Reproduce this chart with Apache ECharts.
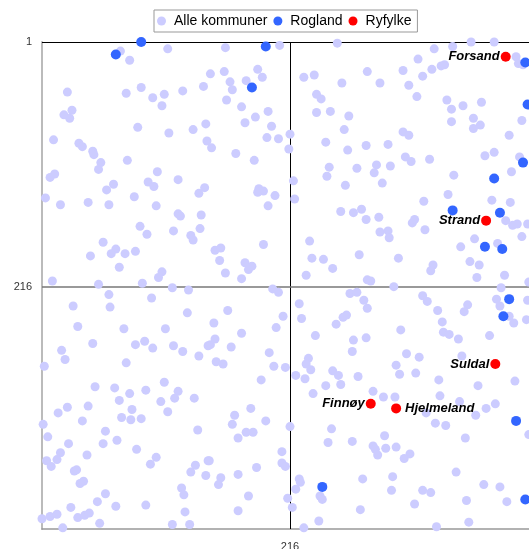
<!DOCTYPE html>
<html>
<head>
<meta charset="utf-8">
<script src="https://cdn.jsdelivr.net/npm/echarts@6/dist/echarts.min.js"></script>
<style>html,body{margin:0;padding:0;background:#fff}#c{width:529px;height:549px}</style>
</head>
<body>
<div id="c"></div>
<script>
// Rank pairs [x, y] (1 = best)
const alleKommuner = [
[69,9],[77,17],[110,7],[23,45],[74,46],[87,41],[97,50],[107,47],[123,44],[141,40],[105,57],[27,61],[20,65],[25,68],[84,76],[132,78],[143,73],[111,81],[11,87],[144,88],[33,90],[36,93],[45,97],[46,100],[75,105],[52,107],[50,113],[101,115],[12,117],[8,120],[119,122],[93,124],[98,128],[63,126],[57,131],[142,129],[137,134],[81,137],[4,138],[17,144],[41,142],[59,144],[100,145],
[119,152],[121,154],[139,153],[86,163],[92,170],[115,167],[138,165],[130,171],[132,175],[54,177],[65,183],[61,187],[73,187],[82,185],[43,189],[68,199],[105,203],[102,208],[10,211],[88,213],[50,214],[114,217],[128,219],[59,223],[96,226],[28,233],[60,234],[127,239],[32,251],[72,253],[108,253],[45,266],[82,267],[90,264],[97,270],[115,268],[123,273],[145,268],[18,272],[21,280],[137,277],[74,283],[3,286],
[47,304],[64,305],[77,310],[91,307],[107,300],[119,308],[116,314],[133,314],[104,317],[110,326],[68,316],[23,322],[15,327],[41,321],[79,324],[70,331],[78,333],[87,332],[36,334],[2,337],[6,348],[56,343],[136,342],[24,354],[54,354],[66,351],[83,359],[17,362],[40,364],[14,368],[5,369],[9,374],[100,366],[95,372],[145,369],[134,373],[130,379],[143,382],[29,378],[31,377],[37,387],[34,389],[122,393],[124,399],[56,398],[49,405],[65,409],[91,408],[26,410],[125,414],[1,420],[8,418],[14,416],[32,419],[38,417],[42,415],[51,424],[114,425],[129,425],[19,428],
[160,6],[207,4],[257,2],[147,29],[159,27],[188,25],[192,32],[164,36],[178,35],[166,43],[228,32],[237,30],[261,37],[283,27],[239,47],[243,51],[161,52],[174,58],[197,62],[186,67],[239,63],[251,62],[267,66],[177,72],[200,75],[263,78],[196,85],[206,86],[216,82],[148,94],[247,89],[282,92],[215,95],[266,96],[169,99],[185,105],[250,111],[274,112],[248,119],[219,123],[264,127],[189,130],[193,132],[188,133],[203,136],[220,139],[197,145],
[260,150],[271,151],[278,148],[282,157],[193,179],[233,176],[151,184],[156,182],[155,193],[177,195],[183,198],[180,201],[160,204],[174,209],[235,191],[245,192],[253,200],[276,188],[230,206],[283,210],[201,218],[206,221],[268,222],[274,221],[280,228],[283,235],[224,231],[162,237],[226,244],[265,241],[262,243],[256,249],[150,248],[210,242],[204,252],[174,257],[238,259],[282,261],[271,263],[151,262],[147,267],[165,269],[198,274],[270,273],[232,279],[152,282],[158,284],[230,284],[202,286],[212,287],
[234,289],[221,294],[229,297],[253,290],[258,294],[275,295],[191,298],[247,303],[260,302],[236,310],[182,323],[168,329],[166,337],[195,334],[178,344],[184,344],[171,349],[216,339],[252,341],[249,353],[270,352],[209,361],[146,369],[209,371],[212,374],[187,375],[171,381],[156,384],[154,390],[224,385],[225,388],[221,394],[279,385],[242,400],[244,403],[180,400],[214,402],[218,410],[171,413],[277,412],[241,422],[228,428],
[341,7],[357,5],[373,1],[393,1],[327,16],[314,26],[339,25],[347,22],[350,21],[331,31],[294,37],[319,39],[412,14],[414,20],[418,21],[326,49],[352,52],[356,60],[366,57],[382,54],[356,71],[375,68],[381,74],[375,77],[417,70],[314,80],[319,83],[406,83],[301,91],[316,102],[321,106],[337,104],[385,101],[393,98],[415,102],[291,109],[303,110],[289,116],[296,125],[358,118],[408,115],[353,135],[332,141],[391,140],[407,142],
[293,155],[322,160],[324,157],[403,158],[409,162],[413,161],[422,161],[294,168],[301,167],[302,173],[333,166],[376,174],[364,181],[396,178],[417,172],[310,191],[340,197],[338,202],[372,194],[380,197],[378,208],[402,206],[286,211],[306,216],[423,212],[399,217],[331,224],[335,229],[344,237],[370,232],[367,238],[395,227],[398,233],[422,228],[406,242],[421,245],[410,248],[348,247],[312,254],[349,256],[354,258],[362,262],[389,259],[317,275],[328,278],[365,277],[308,285],
[311,293],[325,292],[345,298],[379,303],[411,299],[288,308],[297,313],[307,313],[346,312],[363,317],[334,327],[377,329],[386,323],[394,319],[342,336],[351,338],[368,349],[298,347],[288,356],[290,359],[292,364],[299,358],[308,357],[320,363],[315,367],[360,379],[305,383],[331,395],[338,397],[304,395],[384,390],[398,392],[369,404],[404,405],[324,407],[371,423],[343,427],[423,346]
];
const rogland = [
[65,12],[87,1],[195,5],[183,41],[420,19],[422,56],[418,107],[393,121],[357,149],[398,151],[385,181],[400,183],[406,227],[401,242],[244,392],[412,334],[420,403]
];
const ryfylkeNames = ['Forsand','Strand','Suldal','Finnøy','Hjelmeland'];
const ryfylkeX = [403,386,394,286,308];
const ryfylkeY = [14,158,284,319,323];
const xTickLabels = [216];
const yTickLabels = [1,216];
const midRank = 216;
const topRank = 1;

const labelRight = {'Hjelmeland': true};
const font = '"Liberation Sans", Arial, Helvetica, sans-serif';

const chart = echarts.init(document.getElementById('c'), null, {renderer:'canvas'});
chart.setOption({
  animation:false,
  backgroundColor:'#fff',
  textStyle:{fontFamily:font},
  legend:{
    top:10, left:154, padding:[4,6,4,3], itemGap:6, itemWidth:9, itemHeight:9,
    borderColor:'#999', borderWidth:1,
    textStyle:{fontSize:14, color:'#000', fontFamily:font, padding:[0,0,0,3]},
    data:[{name:'Alle kommuner',icon:'circle'},{name:'Rogland',icon:'circle'},{name:'Ryfylke',icon:'circle'}]
  },
  grid:{left:42, top:42, width:496, height:487, containLabel:false, outerBoundsMode:'none'},
  xAxis:{
    type:'value', min:1, max:431,
    axisLine:{show:true, onZero:false, lineStyle:{color:'#999', width:1.5}},
    axisTick:{show:false}, splitLine:{show:false},
    axisLabel:{customValues:xTickLabels, margin:12, fontSize:11, color:'#333', fontFamily:font}
  },
  yAxis:{
    type:'value', inverse:true, min:1, max:429,
    axisLine:{show:true, onZero:false, lineStyle:{color:'#bbb', width:2}},
    axisTick:{show:false}, splitLine:{show:false},
    axisLabel:{customValues:yTickLabels, margin:10, fontSize:11, color:'#333', fontFamily:font}
  },
  series:[
    {
      name:'Alle kommuner', type:'scatter', data:alleKommuner, symbolSize:9, z:2,
      itemStyle:{color:'#ccccff', opacity:1}, emphasis:{disabled:true},
      markLine:{
        silent:true, symbol:'none', z:1, animation:false, label:{show:false},
        lineStyle:{type:'solid'},
        data:[
          {xAxis:midRank, lineStyle:{color:'#000', width:1, type:'solid'}},
          {yAxis:midRank, lineStyle:{color:'#777', width:1.5, type:'solid'}},
          {yAxis:topRank, lineStyle:{color:'#000', width:1, type:'solid'}}
        ]
      }
    },
    {
      name:'Rogland', type:'scatter', data:rogland, symbolSize:10, z:3,
      itemStyle:{color:'#3366ff', opacity:1}, emphasis:{disabled:true}
    },
    {
      name:'Ryfylke', type:'scatter', symbolSize:10, z:4,
      itemStyle:{color:'#ff0000', opacity:1}, emphasis:{disabled:true},
      label:{show:true, formatter:'{b}', fontSize:13, fontWeight:'bold', fontStyle:'italic', color:'#000', fontFamily:font},
      data:ryfylkeNames.map((n,i)=>({
        name:n, value:[ryfylkeX[i], ryfylkeY[i]],
        label:{position: labelRight[n] ? 'right' : 'left', distance: labelRight[n] ? 4 : 1}
      }))
    }
  ]
});
</script>
</body>
</html>
